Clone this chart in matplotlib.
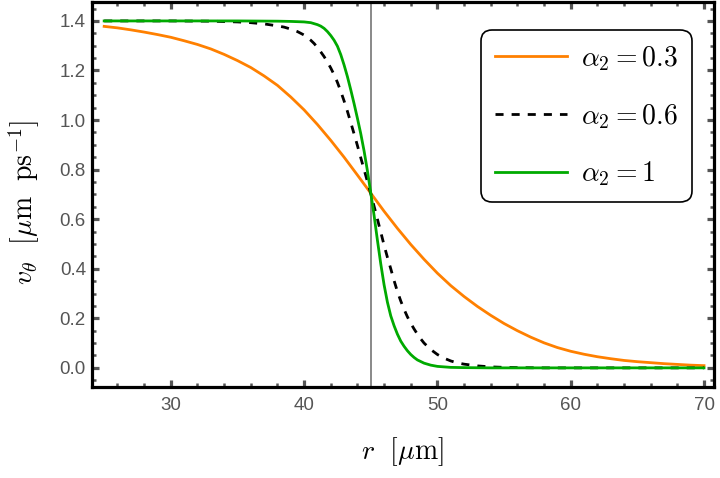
import matplotlib
matplotlib.use("Agg")
import matplotlib.pyplot as plt
from matplotlib.ticker import MultipleLocator, FormatStrFormatter

# ---- data ----
r_orange = [25, 26, 27, 28, 29, 30, 31, 32, 33, 34, 35, 36, 37, 38, 39, 40, 41, 42, 43, 44,
            45, 46, 47, 48, 49, 50, 51, 52, 53, 54, 55, 56, 57, 58, 59, 60, 61, 62, 63, 64,
            65, 66, 67, 68, 69, 70]
v_orange = [1.378, 1.372, 1.364, 1.355, 1.345, 1.334, 1.320, 1.305, 1.287, 1.265, 1.240,
            1.212, 1.178, 1.140, 1.093, 1.041, 0.982, 0.918, 0.850, 0.778, 0.705, 0.632,
            0.563, 0.498, 0.438, 0.382, 0.332, 0.288, 0.248, 0.212, 0.179, 0.150, 0.124,
            0.101, 0.082, 0.067, 0.055, 0.045, 0.037, 0.030, 0.025, 0.021, 0.017, 0.014,
            0.011, 0.009]

r_dashed = [25, 30, 33, 35, 36, 37, 38, 38.5, 39, 39.5, 40, 40.5, 40.75, 41, 41.25, 41.5,
            41.75, 42, 42.25, 42.5, 42.75, 43, 43.25, 43.5, 43.75, 44, 44.25, 44.5, 44.75,
            45, 45.25, 45.5, 45.75, 46, 46.25, 46.5, 46.75, 47, 47.25, 47.5, 47.75, 48,
            48.25, 48.5, 48.75, 49, 49.5, 50, 50.5, 51, 51.5, 52, 53, 54, 55, 56, 58, 70]
v_dashed = [1.400, 1.400, 1.399, 1.396, 1.393, 1.388, 1.380, 1.375, 1.367, 1.357, 1.343,
            1.322, 1.309, 1.293, 1.275, 1.256, 1.234, 1.210, 1.183, 1.152, 1.116, 1.077,
            1.035, 0.990, 0.944, 0.897, 0.848, 0.800, 0.752, 0.703, 0.652, 0.600, 0.548,
            0.495, 0.446, 0.400, 0.352, 0.308, 0.270, 0.236, 0.206, 0.180, 0.157, 0.136,
            0.117, 0.100, 0.074, 0.054, 0.039, 0.028, 0.020, 0.015, 0.008, 0.004, 0.002,
            0.001, 0.000, 0.000]

r_green = [25, 30, 35, 38, 39, 40, 40.5, 41, 41.25, 41.5, 41.75, 42, 42.25, 42.5, 42.75, 43,
           43.25, 43.5, 43.75, 44, 44.25, 44.5, 44.75, 45, 45.25, 45.5, 45.75, 46, 46.25,
           46.5, 46.75, 47, 47.25, 47.5, 47.75, 48, 48.25, 48.5, 49, 49.5, 50, 51, 52, 54,
           60, 70]
v_green = [1.400, 1.400, 1.400, 1.399, 1.398, 1.396, 1.393, 1.385, 1.379, 1.370, 1.357,
           1.341, 1.322, 1.298, 1.264, 1.222, 1.175, 1.122, 1.066, 1.007, 0.945, 0.875,
           0.795, 0.706, 0.615, 0.515, 0.420, 0.335, 0.265, 0.210, 0.170, 0.136, 0.108,
           0.087, 0.069, 0.054, 0.042, 0.032, 0.019, 0.011, 0.006, 0.002, 0.001, 0.000,
           0.000, 0.000]

labels = [r"$\alpha_2 = 0.3$", r"$\alpha_2 = 0.6$", r"$\alpha_2 = 1$"]
r_marker = 45

plt.rcParams["mathtext.fontset"] = "cm"

fig = plt.figure(figsize=(7.2, 4.78), dpi=100)
ax = fig.add_axes([91.5 / 720, 1 - 387.2 / 478, (714 - 91.5) / 720, (387.2 - 1.6) / 478])

ax.axvline(r_marker, color="#808080", lw=1.3, zorder=1)
ax.plot(r_orange, v_orange, color="#FF8000", lw=2.0, label=labels[0], zorder=2)
ax.plot(r_dashed, v_dashed, color="black", lw=2.0, ls=(0, (2.9, 2.9)), label=labels[1], zorder=3)
ax.plot(r_green, v_green, color="#00AA00", lw=2.0, label=labels[2], zorder=4)

ax.set_xlim(24.05, 70.75)
ax.set_ylim(-0.078, 1.478)

ax.xaxis.set_major_locator(MultipleLocator(10))
ax.xaxis.set_minor_locator(MultipleLocator(2))
ax.yaxis.set_major_locator(MultipleLocator(0.2))
ax.yaxis.set_minor_locator(MultipleLocator(0.05))
ax.yaxis.set_major_formatter(FormatStrFormatter("%.1f"))

for s in ax.spines.values():
    s.set_linewidth(2.3)
    s.set_color("black")

tc = "#555555"
ax.tick_params(which="both", direction="in", top=True, right=True, color=tc,
               labelcolor=tc, labelsize=13.5)
ax.tick_params(which="major", length=5.0, width=2.3)
ax.tick_params(which="minor", length=3.2, width=1.8)
ax.tick_params(axis="x", which="major", pad=7)
ax.tick_params(axis="y", which="major", pad=4)
for lab in ax.get_xticklabels() + ax.get_yticklabels():
    lab.set_fontfamily("Liberation Sans")

ax.set_xlabel(r"$r\ \ [\mu\mathrm{m}]$", fontsize=20)
ax.set_ylabel(r"$v_\theta\ \ [\mu\mathrm{m\ \ ps}^{-1}]$", fontsize=20)
ax.xaxis.set_label_coords(0.5, (387.2 - 435) / 385.6)
ax.yaxis.set_label_coords((42 - 91.5) / 622.5, 0.5 - 8 / 385.6)

leg = ax.legend(loc="upper right", bbox_to_anchor=((691.5 - 91.5) / 622.5, (387.2 - 30) / 385.6),
                borderaxespad=0, fontsize=20, handlelength=2.6, handletextpad=0.5,
                labelspacing=1.05, borderpad=0.5, fancybox=True, framealpha=1,
                edgecolor="black")
leg.get_frame().set_linewidth(1.2)
leg.get_frame().set_boxstyle("round", pad=0, rounding_size=0.4)

fig.savefig("out.png", dpi=100)
